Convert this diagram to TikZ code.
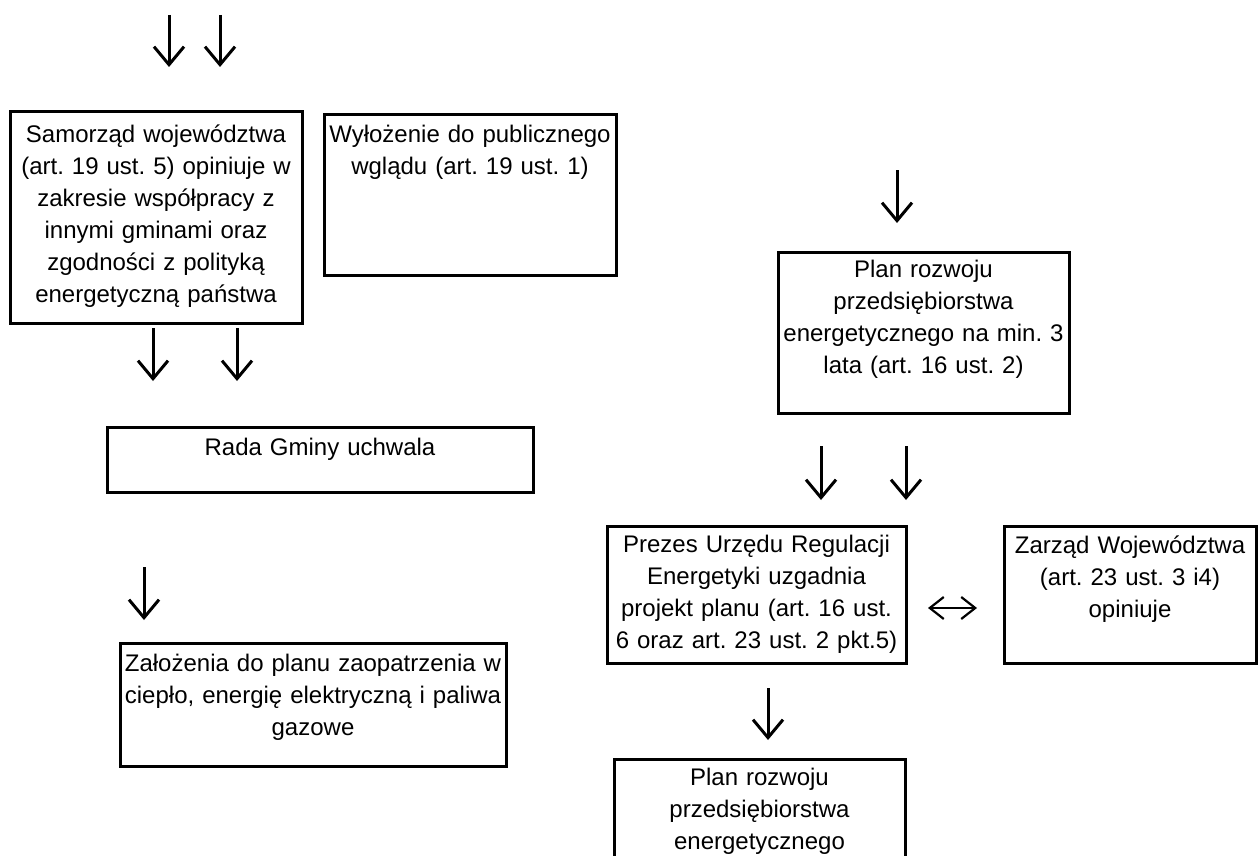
\documentclass[tikz,border=0pt]{standalone}
\usepackage{fontspec}
\setmainfont{Liberation Sans}
\usetikzlibrary{arrows.meta}

\begin{document}
\begin{tikzpicture}[
    x=0.5pt, y=-0.5pt,
    box/.style={rectangle, draw=black, line width=1.5pt, anchor=north, align=center,
                inner xsep=0pt, inner ysep=0pt, font=\fontsize{12}{16}\selectfont\frenchspacing},
    arrow/.style={-{Straight Barb[length=9pt, width=15pt]}, line width=1.5pt},
    dblarrow/.style={{Straight Barb[length=7pt, width=11pt]}-{Straight Barb[length=7pt, width=11pt]}, line width=1.1pt}
]
    \useasboundingbox (0,0) rectangle (1258,856);

    % Left column
    \node[box, text width=146pt, text height=15.3pt, text depth=90.7pt] (samorzad) at (156,110)
        {Samorząd województwa\\(art. 19 ust. 5) opiniuje w\\zakresie współpracy z\\innymi gminami oraz\\zgodności z polityką\\energetyczną państwa};
    \node[box, text width=146pt, text height=13.8pt, text depth=66.7pt] (wylozenie) at (470,113)
        {Wyłożenie do publicznego\\wglądu (art. 19 ust. 1)};
    \node[box, text width=213pt, text height=13.8pt, text depth=18.7pt] (rada) at (320,426)
        {Rada Gminy uchwala};
    \node[box, text width=193pt, text height=14pt, text depth=47.5pt] (zalozenia) at (313,642)
        {Założenia do planu zaopatrzenia w\\ciepło, energię elektryczną i paliwa\\gazowe};

    % Right column
    \node[box, text width=145.5pt, text height=12.3pt, text depth=68.2pt] (planmin) at (923.5,251)
        {Plan rozwoju\\przedsiębiorstwa\\energetycznego na min. 3\\lata (art. 16 ust. 2)};
    \node[box, text width=149.5pt, text height=12.8pt, text depth=55.7pt] (prezes) at (756.5,525)
        {Prezes Urzędu Regulacji\\Energetyki uzgadnia\\projekt planu (art. 16 ust.\\6 oraz art. 23 ust. 2 pkt.5)};
    \node[box, text width=126pt, text height=13.3pt, text depth=55.2pt] (zarzad) at (1130,525)
        {Zarząd Województwa\\(art. 23 ust. 3 i4)\\opiniuje};
    \node[box, text width=145.5pt, text height=12.8pt, text depth=43.2pt] (plan) at (759.5,758)
        {Plan rozwoju\\przedsiębiorstwa\\energetycznego};

    % Arrow ends
    \coordinate (in1) at (169,15);   \coordinate (in1e) at (169,67);
    \coordinate (in2) at (220,15);   \coordinate (in2e) at (220,67);
    \coordinate (op1) at (153,328);  \coordinate (op1e) at (153,381);
    \coordinate (op2) at (237,328);  \coordinate (op2e) at (237,381);
    \coordinate (uch) at (144,567);  \coordinate (uche) at (144,620);
    \coordinate (pl) at (897,170);   \coordinate (ple) at (897,223);
    \coordinate (ur1) at (821,446);  \coordinate (ur1e) at (821,500);
    \coordinate (ur2) at (906,446);  \coordinate (ur2e) at (906,500);
    \coordinate (uzg) at (768,688);  \coordinate (uzge) at (768,740);
    \coordinate (dl) at (928,608);   \coordinate (dr) at (977,608);

    % Arrows
    \draw[arrow] (in1) -- (in1e);
    \draw[arrow] (in2) -- (in2e);
    \draw[arrow] (op1) -- (op1e);
    \draw[arrow] (op2) -- (op2e);
    \draw[arrow] (uch) -- (uche);
    \draw[arrow] (pl) -- (ple);
    \draw[arrow] (ur1) -- (ur1e);
    \draw[arrow] (ur2) -- (ur2e);
    \draw[arrow] (uzg) -- (uzge);
    \draw[dblarrow] (dl) -- (dr);

\end{tikzpicture}
\end{document}
